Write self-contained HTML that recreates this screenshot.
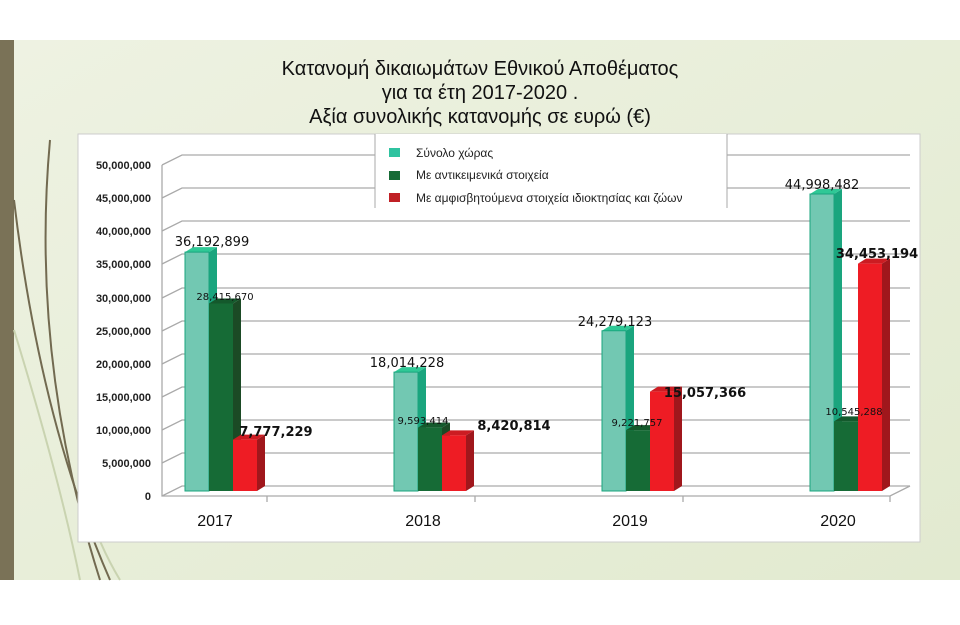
<!DOCTYPE html>
<html><head><meta charset="utf-8"><style>
body{margin:0;width:960px;height:620px;overflow:hidden;background:#fff;font-family:"Liberation Sans",sans-serif}
</style></head><body>
<svg width="960" height="620" xmlns="http://www.w3.org/2000/svg" font-family="Liberation Sans, DejaVu Sans, sans-serif">
<defs>
<linearGradient id="bg" x1="0" y1="0" x2="1" y2="1">
<stop offset="0" stop-color="#eef2e2"/><stop offset="1" stop-color="#e2ead0"/></linearGradient>
</defs>
<rect x="0" y="40" width="960" height="540" fill="url(#bg)"/>
<rect x="0" y="40" width="14" height="540" fill="#7a7257"/>
<g fill="none" stroke="#726a50" stroke-width="2">
<path d="M14 200 Q40 420 110 580"/>
<path d="M50 140 Q30 360 100 580"/>
</g>
<g fill="none" stroke="#c9d3b0" stroke-width="2">
<path d="M14 330 Q60 480 80 580"/>
<path d="M90 380 Q60 480 120 580"/>
</g>
<g font-size="20" fill="#111" text-anchor="middle">
<text x="480" y="75">Κατανομή δικαιωμάτων Εθνικού Αποθέματος</text>
<text x="480" y="99">για τα έτη 2017-2020 .</text>
<text x="480" y="123">Αξία συνολικής κατανομής σε  ευρώ (€)</text>
</g>
<rect x="78" y="134" width="842" height="408" fill="#fff" stroke="#ccc"/>
<g stroke="#aaa" stroke-width="1.3" fill="none">
<path d="M162 496 L182 486 L910 486"/>
<path d="M162 463 L182 453 L910 453"/>
<path d="M162 430 L182 420 L910 420"/>
<path d="M162 397 L182 387 L910 387"/>
<path d="M162 364 L182 354 L910 354"/>
<path d="M162 331 L182 321 L910 321"/>
<path d="M162 298 L182 288 L910 288"/>
<path d="M162 264 L182 254 L910 254"/>
<path d="M162 231 L182 221 L910 221"/>
<path d="M162 198 L182 188 L910 188"/>
<path d="M162 165 L182 155 L910 155"/>
<path d="M162 165 L162 496 L890 496 L910 486"/>
<path d="M267 496 V502 M475 496 V502 M683 496 V502 M890 496 V502"/>
</g>
<g font-size="11" font-weight="bold" fill="#222" text-anchor="end">
<text x="151" y="169">50,000,000</text><text x="151" y="202">45,000,000</text>
<text x="151" y="235">40,000,000</text><text x="151" y="268">35,000,000</text>
<text x="151" y="302">30,000,000</text><text x="151" y="335">25,000,000</text>
<text x="151" y="368">20,000,000</text><text x="151" y="401">15,000,000</text>
<text x="151" y="434">10,000,000</text><text x="151" y="467">5,000,000</text>
<text x="151" y="500">0</text>
</g>
<rect x="375" y="134" width="352" height="74" fill="#fff"/>
<line x1="375" y1="134" x2="375" y2="208" stroke="#aaa"/>
<line x1="727" y1="134" x2="727" y2="208" stroke="#aaa"/>
<rect x="389" y="148" width="11" height="9" fill="#2fc3a0"/>
<rect x="389" y="171" width="11" height="9" fill="#166b36"/>
<rect x="389" y="193" width="11" height="9" fill="#c02025"/>
<g font-size="12" fill="#222">
<text x="416" y="157">Σύνολο χώρας</text>
<text x="416" y="179">Με αντικειμενικά στοιχεία</text>
<text x="416" y="202">Με αμφισβητούμενα στοιχεία ιδιοκτησίας και ζώων</text>
</g>
<g id="bars"></g>
<g font-size="16" fill="#111" text-anchor="middle">
<text x="215" y="526">2017</text><text x="423" y="526">2018</text>
<text x="630" y="526">2019</text><text x="838" y="526">2020</text>
</g>
<script>
var base=491,s=6.6,g=document.getElementById('bars'),ns='http://www.w3.org/2000/svg';
var cols=[['#72c8b2','#1aa57e','#2fc896'],['#166b36','#1b4a25','#14592c'],['#ee1c24','#a0171c','#cc1c22']];
var data=[[185,36.192899,28.41567,7.777229],[394,18.014228,9.593414,8.420814],[602,24.279123,9.221757,15.057366],[810,44.998482,10.545288,34.453194]];
function p(d,f,st){var e=document.createElementNS(ns,'path');e.setAttribute('d',d);e.setAttribute('fill',f);if(st){e.setAttribute('stroke',st);}g.appendChild(e);}
data.forEach(function(r){for(var i=0;i<3;i++){var x=r[0]+i*24,w=24,t=base-r[i+1]*s,c=cols[i];
p('M'+(x+w)+' '+t+' l8 -5 V'+(base-5)+' l-8 5Z',c[1]);
p('M'+x+' '+t+' l8 -5 h'+w+' l-8 5Z',c[2]);
p('M'+x+' '+t+' h'+w+' V'+base+' H'+x+'Z',c[0],i==0?'#1aa57e':null);}});
</script>
<g fill="#111" text-anchor="middle" font-family="DejaVu Sans, sans-serif">
<g font-size="13"><text x="212" y="246">36,192,899</text><text x="407" y="367">18,014,228</text>
<text x="615" y="326">24,279,123</text><text x="822" y="189">44,998,482</text></g>
<g font-size="10"><text x="225" y="300">28,415,670</text><text x="423" y="424">9,593,414</text>
<text x="637" y="426">9,221,757</text><text x="854" y="415">10,545,288</text></g>
<g font-size="13" font-weight="bold"><text x="276" y="436">7,777,229</text><text x="514" y="430">8,420,814</text>
<text x="705" y="397">15,057,366</text><text x="877" y="258">34,453,194</text></g>
</g>
</svg>
</body></html>
